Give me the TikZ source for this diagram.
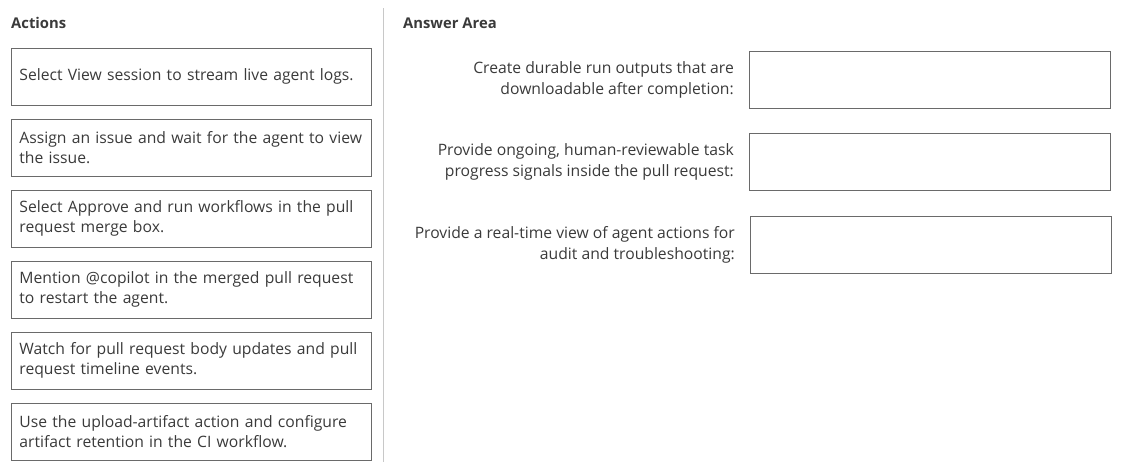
\documentclass[tikz,border=0pt]{standalone}
\usepackage{fontspec}
\setmainfont{Open Sans}
\usetikzlibrary{positioning}
\definecolor{txtgray}{HTML}{3A3A3A}
\definecolor{boxgray}{HTML}{6A6A6A}
\definecolor{divgray}{HTML}{C8C8C8}
\begin{document}
\begin{tikzpicture}[x=1pt, y=-1pt,
		head/.style={anchor=base west, text=txtgray, inner sep=0pt, font=\fontsize{14.8}{17}\selectfont\bfseries},
		actbox/.style={draw=boxgray, line width=0.9pt, anchor=west, text width=344pt, inner xsep=8pt, inner ysep=0pt, minimum height=57pt, align=left, text=txtgray, font=\fontsize{15.7}{20.5}\selectfont},
		ansbox/.style={draw=boxgray, line width=0.9pt, anchor=west, minimum width=361pt, minimum height=57pt},
		prompt/.style={left=15pt of #1, anchor=east, align=right, inner sep=0pt, text=txtgray, font=\fontsize{15.7}{21}\selectfont}]
			\useasboundingbox (0, 0) rectangle (1122, 475);
			\coordinate (divtop) at (383, 8);
			\coordinate (divbot) at (383, 462);
			\draw[divgray, line width=0.9pt] (divtop) -- (divbot);
			
			\node[head] (acthead) at (11, 28) {Actions};
			\node[head] (anshead) at (403, 28) {Answer Area};
			
			\node[actbox] (act1) at (11, 76.5) {Select View session to stream live agent logs.};
			\node[actbox] (act2) at (11, 147.5) {Assign an issue and wait for the agent to view\\the issue.};
			\node[actbox] (act3) at (11, 218.5) {Select Approve and run workflows in the pull\\request merge box.};
			\node[actbox] (act4) at (11, 289.5) {Mention @copilot in the merged pull request\\to restart the agent.};
			\node[actbox] (act5) at (11, 360.5) {Watch for pull request body updates and pull\\request timeline events.};
			\node[actbox] (act6) at (11, 431.5) {Use the upload-artifact action and configure\\artifact retention in the CI workflow.};
			
			\node[ansbox] (ans1) at (749, 79.5) {};
			\node[ansbox] (ans2) at (749, 162) {};
			\node[ansbox] (ans3) at (750, 244.5) {};
			
			\node[prompt=ans1] (ask1) {Create durable run outputs that are\\downloadable after completion:};
			\node[prompt=ans2] (ask2) {Provide ongoing, human-reviewable task\\progress signals inside the pull request:};
			\node[prompt=ans3] (ask3) {Provide a real-time view of agent actions for\\audit and troubleshooting:};
		\end{tikzpicture}
\end{document}
